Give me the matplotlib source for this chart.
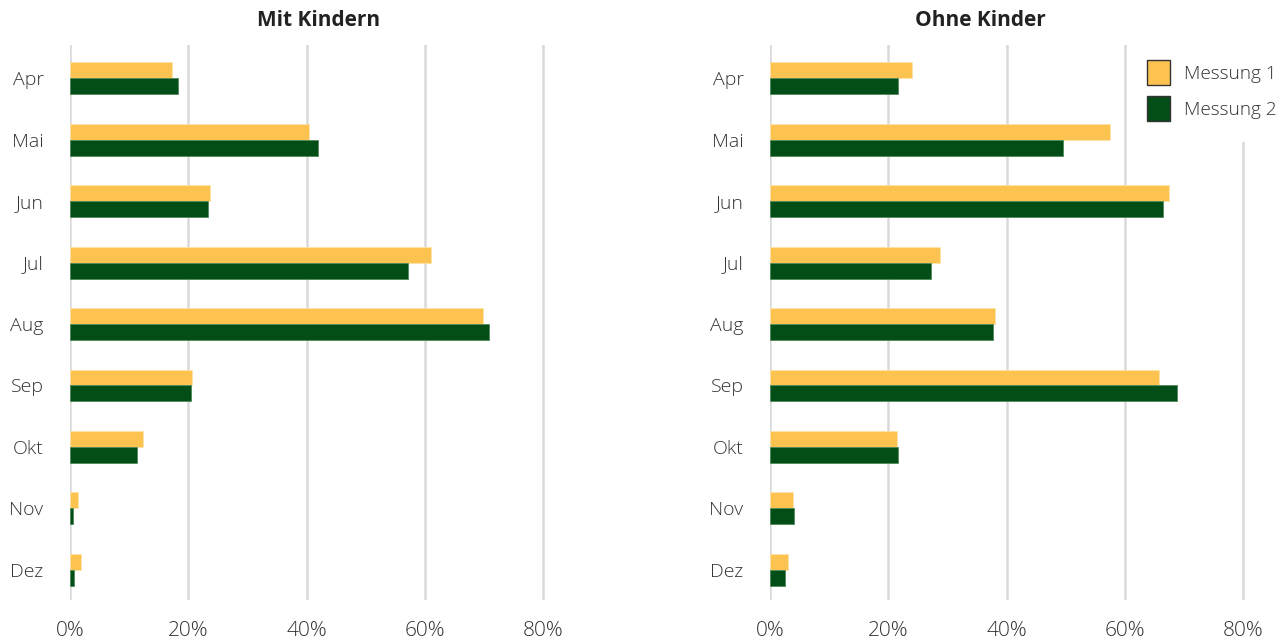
import matplotlib
matplotlib.use("Agg")
import matplotlib.pyplot as plt
import numpy as np
from matplotlib.patches import Patch

months = ["Apr", "Mai", "Jun", "Jul", "Aug", "Sep", "Okt", "Nov", "Dez"]
mit_m1 = [17.2, 40.5, 23.6, 61.0, 69.9, 20.6, 12.3, 1.4, 1.8]
mit_m2 = [18.2, 41.9, 23.4, 57.1, 70.9, 20.5, 11.4, 0.5, 0.7]
ohne_m1 = [24.0, 57.5, 67.5, 28.8, 38.0, 65.8, 21.5, 3.9, 3.0]
ohne_m2 = [21.7, 49.6, 66.5, 27.3, 37.8, 68.9, 21.6, 4.1, 2.6]
titles = ["Mit Kindern", "Ohne Kinder"]
series_names = ["Messung 1", "Messung 2"]
xticks = [0, 20, 40, 60, 80]

c1 = "#FDC350"
c2 = "#034D16"
plt.rcParams['font.family'] = ['Open Sans', 'DejaVu Sans']

fig = plt.figure(figsize=(12.85, 6.41), dpi=100)
W, H = 1285, 641
xmax = 84
wpx = 473 * xmax / 80
y_top, y_bot = 45, 600
axes = []
for i, x0 in enumerate([70, 770]):
    ax = fig.add_axes([x0 / W, 1 - y_bot / H, wpx / W, (y_bot - y_top) / H])
    axes.append(ax)

data = [(mit_m1, mit_m2), (ohne_m1, ohne_m2)]
bh = 0.26
for ax, (s1, s2), t, tx in zip(axes, data, titles, [319, 980]):
    y = np.arange(len(months))
    ax.barh(y - bh / 2, s1, height=bh, color=c1, edgecolor="#fde3a8", linewidth=0.6, zorder=3)
    ax.barh(y + bh / 2, s2, height=bh, color=c2, edgecolor="#4f8a5c", linewidth=0.6, zorder=3)
    ax.set_ylim(8.49, -0.54)
    ax.set_xlim(0, xmax)
    ax.set_yticks(y)
    ax.set_yticklabels(months, fontsize=14, fontweight='light', color="#333333")
    ax.set_xticks(xticks)
    ax.set_xticklabels([f"{v}%" for v in xticks], fontsize=15, fontweight='light', color="#333333")
    ax.tick_params(axis='both', length=0)
    ax.tick_params(axis='y', pad=19)
    ax.tick_params(axis='x', pad=15)
    for sp in ax.spines.values():
        sp.set_visible(False)
    ax.grid(axis='x', color="#d9d9d9", linewidth=1.8, zorder=0)
    ax.set_axisbelow(True)
    fig.text(tx / W, 1 - 20 / H, t, ha='center', va='center', fontsize=15, fontweight='bold', color="#222222")

handles = [Patch(facecolor=c1, edgecolor="#333333", linewidth=1.0),
           Patch(facecolor=c2, edgecolor="#333333", linewidth=1.0)]
leg = fig.legend(handles, series_names, loc='upper left', bbox_to_anchor=(1117 / W, 1 - 30 / H),
                 frameon=True, framealpha=1, edgecolor='none', facecolor='white',
                 fontsize=13.7, handlelength=1.2, handleheight=1.6, labelspacing=0.6,
                 handletextpad=0.7, borderpad=1.1)
for txt in leg.get_texts():
    txt.set_fontweight('light')
    txt.set_color("#333333")
leg.set_zorder(10)

fig.savefig("out.png", dpi=100)
